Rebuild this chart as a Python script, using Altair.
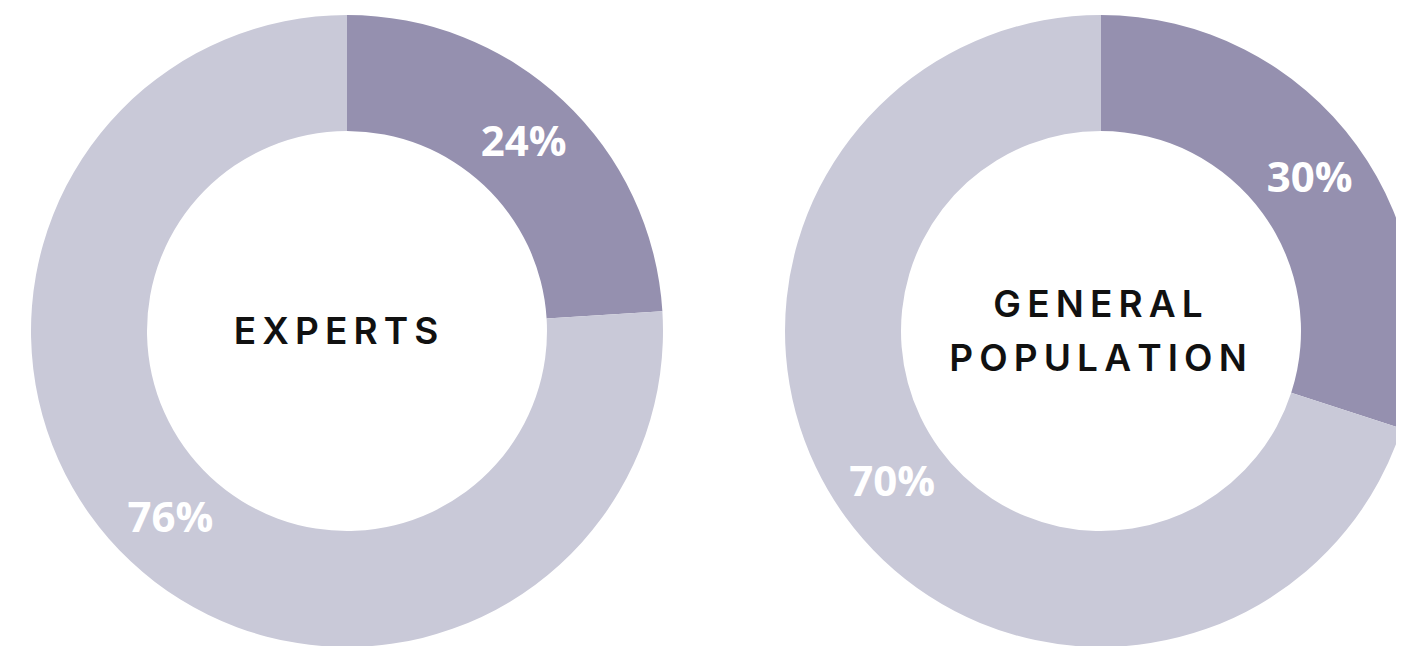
import altair as alt
import pandas as pd

# ---- data ----
groups = ["EXPERTS", "GENERAL POPULATION"]
center_lines = [["EXPERTS"], ["GENERAL", "POPULATION"]]
segments = ["Highlighted", "Rest"]
experts_values = [24, 76]
general_values = [30, 70]
seg_colors = ["#9590AF", "#C9C9D8"]

# ---- layout/style ----
W, H = 1388, 638
CX = {"EXPERTS": 339, "GENERAL POPULATION": 1093}
TEXT_DX = {"EXPERTS": -11, "GENERAL POPULATION": -3}
CY = 323
R_OUT, R_IN, R_LABEL = 316, 200, 258
FONT = "Open Sans"
CENTER_FONT = "Inter"
SP = "\u2009"
LINE_H = 54

rows = []
for g, vals in zip(groups, [experts_values, general_values]):
    for i, (s, v) in enumerate(zip(segments, vals)):
        rows.append({"group": g, "segment": s, "order": i, "value": v, "label": f"{v}%"})
df = pd.DataFrame(rows)

center_df = pd.DataFrame({
    "group": groups,
    "text": ["\n".join(SP.join(list(line)) for line in lines) for lines in center_lines],
})
n_lines = {g: len(lines) for g, lines in zip(groups, center_lines)}

theta = alt.Theta("value:Q", stack=True)
order = alt.Order("order:Q")
color = alt.Color("segment:N", scale=alt.Scale(domain=segments, range=seg_colors), legend=None)

layers = []
for g in groups:
    base = alt.Chart(df).transform_filter(alt.datum.group == g)
    arc = base.mark_arc(outerRadius=R_OUT, innerRadius=R_IN).encode(
        theta=theta, color=color, order=order,
        x=alt.value(CX[g]), y=alt.value(CY),
    )
    lab = base.mark_text(radius=R_LABEL, font=FONT, fontSize=42, fontWeight="bold",
                         color="white", align="center", baseline="middle").encode(
        theta=theta, order=order, text="label:N",
        x=alt.value(CX[g]), y=alt.value(CY),
    )
    ctr = alt.Chart(center_df).transform_filter(alt.datum.group == g).mark_text(
        font=CENTER_FONT, fontSize=37, fontWeight=600, color="#111111",
        align="center", baseline="middle", lineBreak="\n", lineHeight=LINE_H,
    ).encode(text="text:N", x=alt.value(CX[g] + TEXT_DX[g]),
             y=alt.value(CY + 2 - (n_lines[g] - 1) * LINE_H / 2))
    layers += [arc, lab, ctr]

chart = alt.layer(*layers).properties(
    width=W, height=H, padding=0,
    autosize=alt.AutoSizeParams(type="none"),
    background="white",
).configure_view(stroke=None)

chart.save("out.html", embed_options={"renderer": "svg", "actions": False})
